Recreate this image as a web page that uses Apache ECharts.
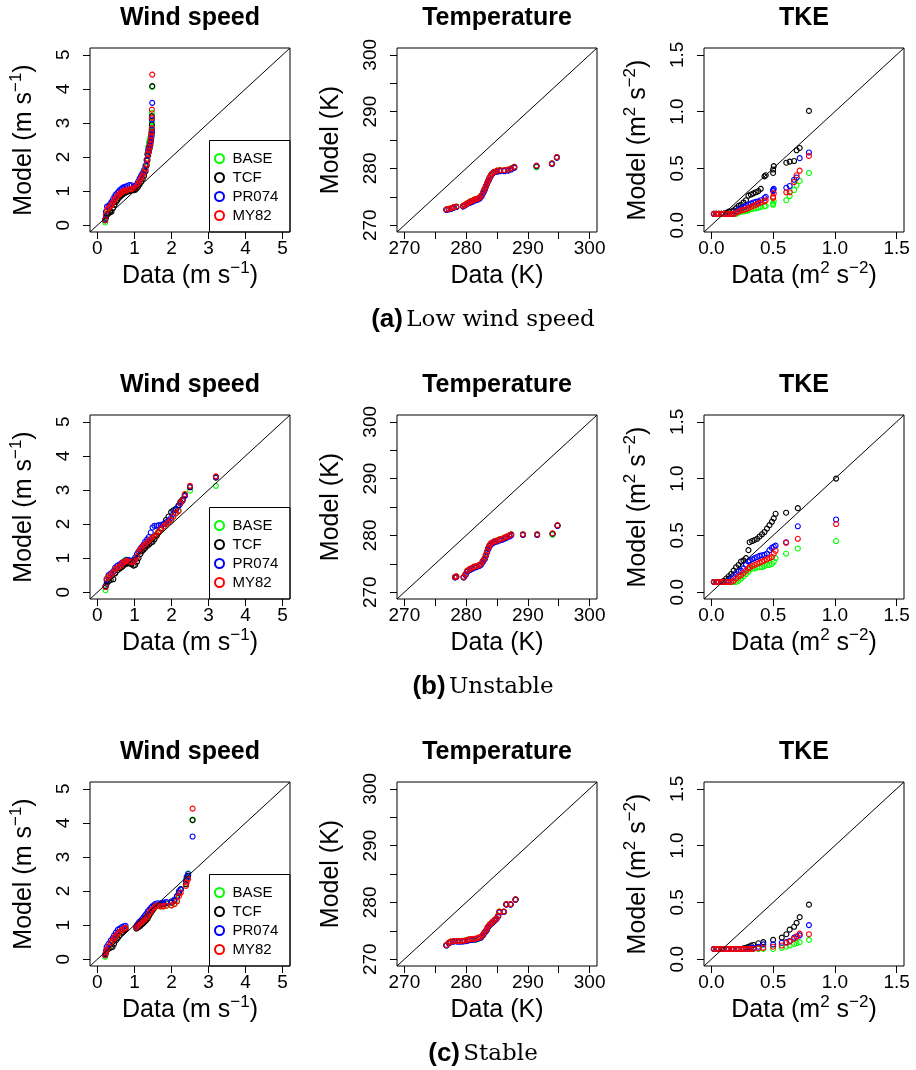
<!DOCTYPE html>
<html><head><meta charset="utf-8">
<script src="https://cdn.jsdelivr.net/npm/echarts@6/dist/echarts.min.js"></script>
<style>html,body{margin:0;padding:0;background:#fff}#c{width:916px;height:1070px}</style>
</head><body><div id="c"></div>
<script>
// ---------------- DATA ----------------
const seriesNames = ['BASE', 'TCF', 'PR074', 'MY82'];
const panelTitles = ['Wind speed', 'Temperature', 'TKE'];
const captionTags = ['(a)', '(b)', '(c)'];
const captionTexts = ['Low wind speed', 'Unstable', 'Stable'];

const windRange = [-0.2, 5.2];
const windTicks = [0, 1, 2, 3, 4, 5];
const windLabels = [0, 1, 2, 3, 4, 5];
const tempRange = [268.8, 301.2];
const tempTicks = [270, 275, 280, 285, 290, 295, 300];
const tempLabels = [270, 280, 290, 300];
const tkeRange = [-0.06, 1.56];
const tkeTicks = [0.0, 0.5, 1.0, 1.5];
const tkeLabels = [0.0, 0.5, 1.0, 1.5];

// (a) Low wind speed
const aWindX     = [0.21,0.23,0.26,0.30,0.34,0.38,0.42,0.46,0.50,0.54,0.58,0.62,0.66,0.70,0.75,0.80,0.86,0.92,0.98,1.02,1.06,1.10,1.14,1.18,1.22,1.26,1.30,1.33,1.35,1.37,1.39,1.41,1.43,1.44,1.45,1.46,1.47,1.47,1.47,1.48];
const aWindBASE  = [0.08,0.28,0.42,0.48,0.54,0.60,0.66,0.73,0.79,0.84,0.89,0.93,0.97,0.99,1.01,1.02,1.04,1.05,1.07,1.09,1.14,1.21,1.30,1.40,1.50,1.60,1.72,1.90,2.10,2.30,2.42,2.50,2.55,2.60,2.68,2.78,2.90,3.03,3.30,4.06];
const aWindTCF   = [0.14,0.22,0.30,0.35,0.38,0.40,0.50,0.60,0.68,0.74,0.80,0.85,0.88,0.92,0.95,0.98,1.00,1.02,1.03,1.04,1.08,1.13,1.20,1.27,1.35,1.45,1.58,1.75,1.90,2.05,2.15,2.25,2.35,2.45,2.55,2.65,2.75,2.95,3.20,4.08];
const aWindPR074 = [0.18,0.40,0.55,0.56,0.62,0.68,0.76,0.84,0.90,0.95,1.00,1.04,1.08,1.11,1.13,1.15,1.18,1.17,1.14,1.15,1.20,1.28,1.37,1.45,1.53,1.62,1.75,1.92,2.08,2.20,2.28,2.35,2.42,2.48,2.54,2.60,2.70,2.80,3.10,3.59];
const aWindMY82  = [0.15,0.30,0.45,0.50,0.55,0.60,0.67,0.74,0.80,0.85,0.90,0.94,0.97,1.00,1.02,1.03,1.05,1.06,1.08,1.10,1.15,1.22,1.30,1.38,1.46,1.55,1.65,1.80,1.95,2.10,2.20,2.30,2.40,2.50,2.62,2.72,2.85,3.15,3.39,4.42];

const aTempX     = [276.8,277.2,277.6,278.0,278.4,279.5,279.8,280.1,280.4,280.7,281.0,281.3,281.6,281.9,282.2,282.5,282.8,283.0,283.2,283.4,283.6,283.8,284.0,284.2,284.5,285.0,285.5,286.2,286.8,287.3,287.8,291.4,293.9,294.7];
const aTempBASE  = [272.8,272.9,273.0,273.2,273.3,273.4,273.6,273.8,274.0,274.2,274.3,274.5,274.6,274.7,274.9,275.3,275.9,276.4,276.9,277.4,277.9,278.4,278.8,279.1,279.4,279.6,279.7,279.7,279.8,280.0,280.3,280.2,280.9,282.0];
const aTempTCF   = [272.7,272.8,272.9,273.1,273.2,273.3,273.5,273.7,273.9,274.1,274.2,274.4,274.5,274.6,274.8,275.2,275.8,276.3,276.8,277.3,277.8,278.3,278.7,279.0,279.3,279.5,279.6,279.6,279.7,279.9,280.2,280.4,280.8,281.9];
const aTempPR074 = [272.7,272.8,272.9,273.1,273.2,273.3,273.5,273.7,273.9,274.0,274.1,274.3,274.4,274.5,274.7,275.1,275.7,276.2,276.8,277.3,277.8,278.3,278.7,279.0,279.3,279.4,279.5,279.5,279.6,279.8,280.1,280.4,280.8,281.9];
const aTempMY82  = [272.8,272.9,273.0,273.2,273.3,273.4,273.6,273.8,274.0,274.2,274.3,274.5,274.6,274.7,274.9,275.3,275.9,276.4,276.9,277.4,277.9,278.4,278.8,279.1,279.4,279.6,279.7,279.7,279.8,280.0,280.3,280.5,280.9,282.0];

const aTkeX      = [0.02,0.04,0.06,0.08,0.10,0.12,0.14,0.16,0.18,0.20,0.22,0.24,0.26,0.28,0.30,0.32,0.34,0.36,0.38,0.40,0.43,0.44,0.50,0.50,0.505,0.607,0.634,0.67,0.69,0.715,0.79];
const aTkeBASE   = [0.10,0.10,0.10,0.10,0.10,0.10,0.10,0.10,0.10,0.10,0.11,0.12,0.12,0.125,0.13,0.14,0.145,0.15,0.155,0.16,0.165,0.17,0.18,0.19,0.21,0.22,0.256,0.31,0.35,0.39,0.46];
const aTkeTCF    = [0.10,0.10,0.10,0.10,0.10,0.11,0.12,0.12,0.13,0.15,0.17,0.18,0.20,0.22,0.26,0.27,0.28,0.29,0.30,0.32,0.43,0.44,0.46,0.49,0.52,0.55,0.56,0.565,0.66,0.68,1.006];
const aTkePR074  = [0.10,0.10,0.10,0.10,0.10,0.10,0.10,0.10,0.10,0.12,0.14,0.15,0.16,0.17,0.18,0.19,0.20,0.205,0.21,0.22,0.24,0.25,0.30,0.31,0.32,0.33,0.345,0.40,0.42,0.59,0.64];
const aTkeMY82   = [0.10,0.10,0.10,0.10,0.10,0.10,0.10,0.10,0.10,0.11,0.12,0.13,0.135,0.14,0.15,0.16,0.17,0.18,0.19,0.20,0.21,0.22,0.24,0.25,0.28,0.29,0.29,0.38,0.44,0.48,0.61];

// (b) Unstable
const bWindX     = [0.22,0.25,0.30,0.36,0.43,0.48,0.54,0.61,0.66,0.70,0.75,0.79,0.85,0.92,0.98,1.02,1.07,1.11,1.16,1.20,1.25,1.29,1.34,1.39,1.44,1.49,1.54,1.60,1.65,1.72,1.79,1.85,1.92,1.99,2.05,2.12,2.19,2.24,2.30,2.36,2.50,3.20];
const bWindBASE  = [0.06,0.38,0.44,0.52,0.58,0.66,0.72,0.76,0.84,0.90,0.94,0.96,0.93,0.90,0.92,0.96,1.05,1.16,1.24,1.30,1.36,1.40,1.46,1.50,1.55,1.60,1.64,1.70,1.78,1.86,1.93,2.00,2.06,2.12,2.22,2.32,2.40,2.62,2.72,2.86,2.98,3.12];
const bWindTCF   = [0.18,0.25,0.32,0.36,0.38,0.55,0.65,0.70,0.74,0.78,0.82,0.84,0.85,0.82,0.78,0.80,0.90,1.00,1.12,1.20,1.25,1.30,1.36,1.40,1.45,1.48,1.55,1.65,1.75,1.88,2.00,2.12,2.22,2.35,2.40,2.45,2.55,2.65,2.72,2.85,3.08,3.36];
const bWindPR074 = [0.16,0.35,0.50,0.55,0.62,0.72,0.78,0.82,0.86,0.88,0.92,0.94,0.94,0.92,0.95,1.02,1.12,1.20,1.28,1.33,1.40,1.48,1.55,1.62,1.75,1.90,1.95,1.95,1.96,1.98,2.00,2.05,2.10,2.18,2.30,2.42,2.52,2.60,2.68,2.82,3.10,3.38];
const bWindMY82  = [0.15,0.40,0.45,0.52,0.58,0.68,0.72,0.75,0.82,0.88,0.90,0.92,0.90,0.88,0.90,0.95,1.04,1.18,1.25,1.30,1.36,1.40,1.45,1.50,1.55,1.60,1.63,1.70,1.78,1.85,1.93,2.00,2.05,2.12,2.22,2.32,2.38,2.62,2.70,2.88,3.12,3.40];

const bTempX     = [278.2,278.4,279.6,279.9,280.2,280.6,281.0,281.3,281.7,282.1,282.4,282.7,283.0,283.2,283.4,283.6,283.8,284.0,284.3,284.6,285.0,285.4,285.8,286.2,286.6,287.0,287.3,289.2,291.5,294.0,294.8];
const bTempBASE  = [272.7,272.8,272.7,273.2,273.8,274.1,274.3,274.5,274.6,274.8,275.0,275.5,276.0,276.6,277.2,277.8,278.3,278.6,278.8,279.0,279.1,279.3,279.4,279.6,279.8,280.0,280.2,280.2,280.2,280.1,281.8];
const bTempTCF   = [272.6,272.7,272.6,273.1,273.7,274.0,274.2,274.4,274.5,274.7,274.9,275.4,275.9,276.5,277.1,277.7,278.2,278.5,278.7,278.9,279.0,279.2,279.3,279.5,279.7,279.9,280.1,280.1,280.1,280.3,281.7];
const bTempPR074 = [272.6,272.7,272.6,273.0,273.6,273.9,274.1,274.3,274.4,274.6,274.8,275.3,275.8,276.4,277.0,277.6,278.1,278.4,278.6,278.8,278.9,279.1,279.2,279.4,279.6,279.8,280.0,280.1,280.1,280.3,281.7];
const bTempMY82  = [272.7,272.8,272.7,273.2,273.8,274.1,274.3,274.5,274.6,274.8,275.0,275.5,276.0,276.6,277.2,277.8,278.3,278.6,278.8,279.0,279.1,279.3,279.4,279.6,279.8,280.0,280.2,280.2,280.2,280.35,281.8];

const bTkeX      = [0.02,0.04,0.06,0.08,0.10,0.12,0.14,0.16,0.18,0.20,0.22,0.24,0.26,0.28,0.30,0.31,0.33,0.35,0.37,0.39,0.41,0.43,0.45,0.47,0.49,0.505,0.52,0.605,0.70,1.01];
const bTkeBASE   = [0.09,0.09,0.09,0.09,0.09,0.09,0.09,0.09,0.09,0.09,0.10,0.12,0.14,0.16,0.18,0.20,0.21,0.21,0.22,0.22,0.22,0.23,0.24,0.24,0.25,0.27,0.30,0.34,0.385,0.45];
const bTkeTCF    = [0.09,0.09,0.09,0.09,0.10,0.12,0.14,0.16,0.19,0.22,0.24,0.27,0.28,0.30,0.37,0.44,0.45,0.46,0.47,0.49,0.51,0.53,0.56,0.59,0.62,0.65,0.69,0.70,0.74,1.00];
const bTkePR074  = [0.09,0.09,0.09,0.09,0.09,0.09,0.10,0.12,0.14,0.16,0.18,0.19,0.21,0.24,0.27,0.28,0.29,0.30,0.31,0.32,0.325,0.33,0.34,0.37,0.39,0.40,0.41,0.44,0.58,0.64];
const bTkeMY82   = [0.09,0.09,0.09,0.09,0.09,0.09,0.09,0.09,0.10,0.12,0.14,0.15,0.17,0.19,0.21,0.22,0.23,0.24,0.25,0.26,0.27,0.28,0.29,0.30,0.31,0.34,0.365,0.435,0.47,0.60];

// (c) Stable
const cWindX     = [0.21,0.23,0.25,0.30,0.36,0.41,0.45,0.50,0.55,0.60,0.66,0.72,0.76,1.05,1.08,1.12,1.16,1.20,1.24,1.28,1.32,1.36,1.40,1.44,1.48,1.52,1.56,1.62,1.70,1.78,1.86,2.00,2.08,2.15,2.20,2.25,2.39,2.41,2.45,2.57];
const cWindBASE  = [0.07,0.18,0.27,0.37,0.47,0.54,0.61,0.67,0.74,0.79,0.85,0.89,0.91,0.92,0.97,1.01,1.05,1.09,1.13,1.17,1.21,1.27,1.34,1.39,1.45,1.49,1.54,1.57,1.55,1.55,1.57,1.58,1.62,1.72,1.92,2.06,2.20,2.36,2.52,4.10];
const cWindTCF   = [0.12,0.18,0.25,0.30,0.34,0.36,0.45,0.55,0.62,0.70,0.78,0.84,0.88,0.90,0.92,0.95,0.98,1.02,1.06,1.10,1.15,1.20,1.28,1.35,1.42,1.48,1.54,1.58,1.60,1.62,1.64,1.66,1.72,1.85,1.95,2.05,2.20,2.35,2.45,4.08];
const cWindPR074 = [0.15,0.25,0.36,0.45,0.55,0.62,0.70,0.78,0.86,0.90,0.94,0.97,0.98,0.97,1.02,1.08,1.12,1.17,1.22,1.28,1.33,1.40,1.45,1.50,1.55,1.58,1.62,1.64,1.64,1.66,1.68,1.70,1.75,1.85,2.00,2.05,2.30,2.42,2.50,3.60];
const cWindMY82  = [0.12,0.20,0.28,0.38,0.48,0.55,0.62,0.68,0.75,0.80,0.86,0.90,0.92,0.93,0.98,1.02,1.06,1.10,1.14,1.18,1.22,1.28,1.35,1.40,1.46,1.50,1.55,1.58,1.55,1.55,1.57,1.58,1.62,1.70,1.85,1.95,2.15,2.25,2.35,4.42];

const cTempX     = [276.8,277.2,277.5,278.0,278.6,279.0,279.4,279.8,280.2,280.5,280.9,281.3,281.6,282.0,282.4,282.7,283.0,283.3,283.5,283.8,284.1,284.3,284.6,284.9,285.2,285.4,286.1,286.5,287.2,288.0];
const cTempBASE  = [272.5,272.9,273.1,273.2,273.2,273.2,273.25,273.3,273.4,273.5,273.5,273.5,273.45,273.6,273.8,274.2,274.7,275.1,275.6,276.1,276.4,276.6,276.9,277.2,277.7,278.4,278.4,279.7,279.7,280.55];
const cTempTCF   = [272.45,272.85,273.05,273.15,273.15,273.15,273.2,273.2,273.3,273.4,273.45,273.5,273.55,273.7,273.85,274.2,274.7,275.1,275.6,276.0,276.3,276.5,276.8,277.1,277.6,278.3,278.35,279.65,279.65,280.5];
const cTempPR074 = [272.4,272.8,273.0,273.1,273.1,273.1,273.1,273.15,273.25,273.35,273.4,273.45,273.5,273.65,273.8,274.15,274.65,275.05,275.55,275.95,276.25,276.45,276.75,277.05,277.55,278.25,278.3,279.6,279.6,280.45];
const cTempMY82  = [272.5,272.9,273.1,273.2,273.2,273.2,273.25,273.3,273.4,273.5,273.55,273.6,273.65,273.8,273.95,274.3,274.8,275.2,275.7,276.1,276.4,276.6,276.9,277.2,277.7,278.4,278.4,279.7,279.7,280.55];

const cTkeX      = [0.02,0.04,0.06,0.08,0.10,0.12,0.14,0.16,0.18,0.20,0.22,0.24,0.26,0.28,0.30,0.32,0.34,0.38,0.42,0.50,0.57,0.607,0.634,0.67,0.69,0.715,0.79];
const cTkeBASE   = [0.09,0.09,0.09,0.09,0.09,0.09,0.09,0.09,0.09,0.09,0.09,0.09,0.09,0.09,0.09,0.09,0.09,0.09,0.09,0.09,0.10,0.11,0.12,0.135,0.14,0.15,0.17];
const cTkeTCF    = [0.09,0.09,0.09,0.09,0.09,0.09,0.09,0.09,0.09,0.09,0.09,0.09,0.095,0.10,0.11,0.12,0.125,0.14,0.15,0.17,0.19,0.22,0.26,0.285,0.32,0.37,0.48];
const cTkePR074  = [0.09,0.09,0.09,0.09,0.09,0.09,0.09,0.09,0.09,0.09,0.09,0.09,0.09,0.09,0.09,0.10,0.10,0.11,0.13,0.13,0.145,0.15,0.16,0.19,0.20,0.21,0.30];
const cTkeMY82   = [0.09,0.09,0.09,0.09,0.09,0.09,0.09,0.09,0.09,0.09,0.09,0.09,0.09,0.09,0.09,0.09,0.09,0.095,0.10,0.11,0.12,0.145,0.155,0.18,0.20,0.225,0.22];

// ---------------- LAYOUT / STYLE ----------------
const FONT = 'Liberation Sans, Arial, Helvetica, sans-serif';
const seriesColors = ['#00ff00', '#000000', '#0000ff', '#ff0000'];
const colLeft = [90, 397, 704];
const rowTop = [48, 415, 782];
const plotW = 200, plotH = 184;

const panels = [
  [aWindX, [aWindBASE, aWindTCF, aWindPR074, aWindMY82], 'wind'],
  [aTempX, [aTempBASE, aTempTCF, aTempPR074, aTempMY82], 'temp'],
  [aTkeX,  [aTkeBASE, aTkeTCF, aTkePR074, aTkeMY82], 'tke'],
  [bWindX, [bWindBASE, bWindTCF, bWindPR074, bWindMY82], 'wind'],
  [bTempX, [bTempBASE, bTempTCF, bTempPR074, bTempMY82], 'temp'],
  [bTkeX,  [bTkeBASE, bTkeTCF, bTkePR074, bTkeMY82], 'tke'],
  [cWindX, [cWindBASE, cWindTCF, cWindPR074, cWindMY82], 'wind'],
  [cTempX, [cTempBASE, cTempTCF, cTempPR074, cTempMY82], 'temp'],
  [cTkeX,  [cTkeBASE, cTkeTCF, cTkePR074, cTkeMY82], 'tke']
];

const kinds = {
  wind: { range: windRange, ticks: windTicks, labels: windLabels, fmt: v => String(v),
          xName: 'Data (m s{sup|\u22121})', yName: 'Model (m s{sup|\u22121})' },
  temp: { range: tempRange, ticks: tempTicks, labels: tempLabels, fmt: v => String(v),
          xName: 'Data (K)', yName: 'Model (K)' },
  tke:  { range: tkeRange, ticks: tkeTicks, labels: tkeLabels, fmt: v => Number(v).toFixed(1),
          xName: 'Data (m{sup|2} s{sup|\u22122})', yName: 'Model (m{sup|2} s{sup|\u22122})' }
};

const nameStyle = {
  fontSize: 25, fontFamily: FONT, color: '#000', lineHeight: 32,
  rich: { sup: { fontSize: 17, fontFamily: FONT, color: '#000', verticalAlign: 'top', lineHeight: 17 } }
};

const grids = [], xAxes = [], yAxes = [], series = [], legends = [], graphics = [];

panels.forEach((p, i) => {
  const r = Math.floor(i / 3), c = i % 3;
  const k = kinds[p[2]];
  grids.push({ left: colLeft[c], top: rowTop[r], width: plotW, height: plotH,
               show: true, borderColor: '#000', borderWidth: 1, backgroundColor: 'transparent' });
  const common = {
    gridIndex: i, type: 'value', min: k.range[0], max: k.range[1],
    splitLine: { show: false },
    axisLine: { show: false, onZero: false },
    axisTick: { show: true, customValues: k.ticks, length: 7, lineStyle: { color: '#000', width: 1 } },
    nameLocation: 'middle', nameTextStyle: nameStyle
  };
  xAxes.push(Object.assign({}, common, {
    position: 'bottom',
    axisLabel: { customValues: k.labels, margin: 7, color: '#000', fontSize: 19, fontFamily: FONT, formatter: k.fmt },
    name: k.xName, nameGap: 28
  }));
  yAxes.push(Object.assign({}, common, {
    position: 'left',
    axisLabel: { customValues: k.labels, margin: 17, rotate: 90, color: '#000', fontSize: 19, fontFamily: FONT, formatter: k.fmt },
    name: k.yName, nameGap: 50
  }));
  // 1:1 reference line across the axis extent
  series.push({ type: 'line', xAxisIndex: i, yAxisIndex: i, silent: true, symbol: 'none',
                lineStyle: { color: '#000', width: 1 },
                data: [[k.range[0], k.range[0]], [k.range[1], k.range[1]]] });
  seriesNames.forEach((nm, s) => {
    series.push({
      type: 'scatter', name: nm, xAxisIndex: i, yAxisIndex: i, silent: true,
      symbol: 'circle', symbolSize: 5,
      itemStyle: { color: 'rgba(0,0,0,0)', borderColor: seriesColors[s], borderWidth: 1.1, opacity: 1 },
      data: p[0].map((x, j) => [x, p[1][s][j]])
    });
  });
  // panel title
  graphics.push({ type: 'text', x: colLeft[c] + plotW / 2, y: rowTop[r] - 30,
    style: { text: panelTitles[c], fill: '#000', font: 'bold 25px ' + FONT, textAlign: 'center', textVerticalAlign: 'middle' } });
  if (c === 0) {
    legends.push({ data: seriesNames, orient: 'vertical', left: 214, top: rowTop[r] + 103, padding: 0,
      itemWidth: 16, itemHeight: 9, itemGap: 4, icon: 'circle', selectedMode: false,
      textStyle: { fontSize: 15, lineHeight: 15, color: '#000', fontFamily: FONT } });
    graphics.push({ type: 'rect', shape: { x: 209.5, y: rowTop[r] + 92.5, width: colLeft[0] + plotW - 209.5, height: plotH - 92.5 },
      style: { fill: 'none', stroke: '#000', lineWidth: 1 } });
  }
});

captionTags.forEach((tag, r) => {
  graphics.push({ type: 'text', x: 483, y: rowTop[r] + 272,
    style: { text: '{b|' + tag + '} {s|' + captionTexts[r] + '}', textAlign: 'center', textVerticalAlign: 'middle',
      rich: { b: { font: 'bold 26px ' + FONT, fill: '#000' }, s: { font: '23px DejaVu Serif, serif', fill: '#000' } } } });
});

const chart = echarts.init(document.getElementById('c'), null, { renderer: 'canvas' });
chart.setOption({
  animation: false,
  backgroundColor: '#fff',
  grid: grids, xAxis: xAxes, yAxis: yAxes, series: series, legend: legends,
  graphic: { elements: graphics }
});
</script></body></html>
